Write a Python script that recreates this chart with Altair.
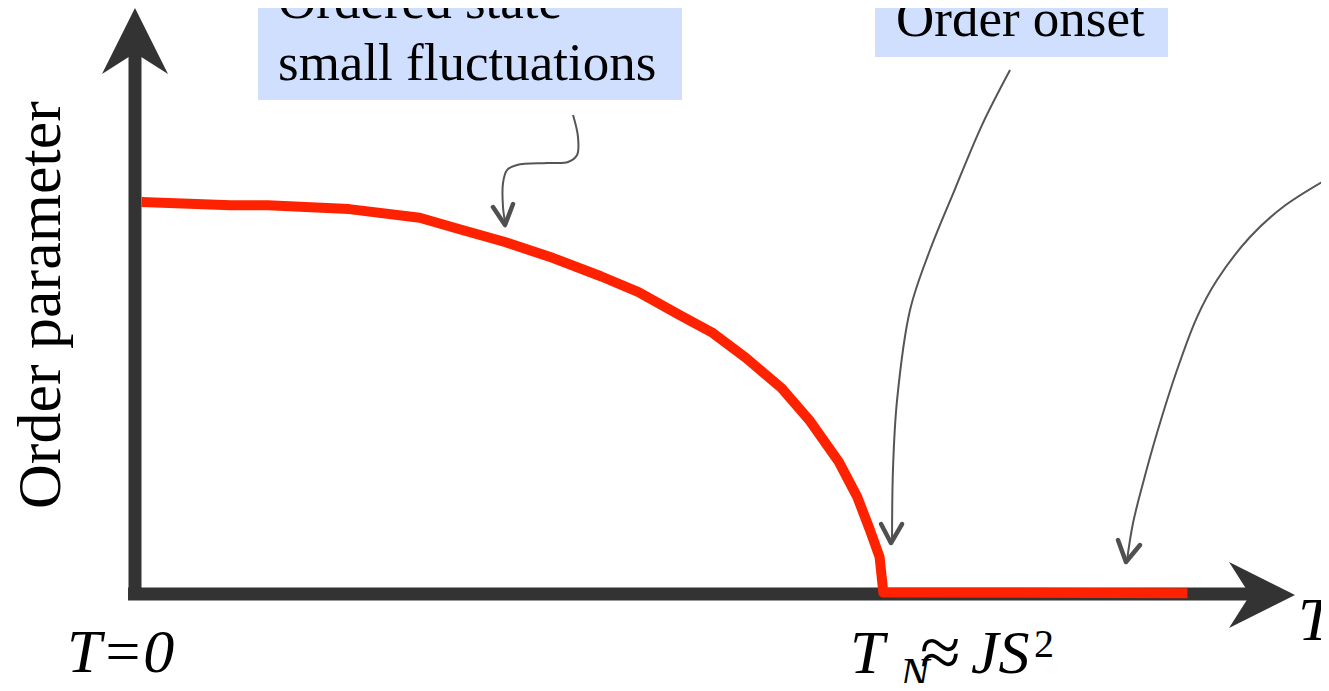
import altair as alt
import pandas as pd

# ---- data (T in units of T_N, order parameter normalised to 1 at T=0) ----
curve_T = [0.0, 0.12, 0.17, 0.28, 0.375, 0.43, 0.49, 0.555, 0.62, 0.67, 0.725,
           0.77, 0.815, 0.863, 0.90, 0.94, 0.965, 0.982, 0.995, 1.0, 1.41]
curve_M = [1.0, 0.992, 0.992, 0.982, 0.96, 0.93, 0.898, 0.857, 0.81, 0.77, 0.712,
           0.666, 0.602, 0.525, 0.444, 0.337, 0.247, 0.163, 0.094, 0.004, 0.002]

# axis shafts
axis_x = [-0.0088, -0.0182]
axis_y = [-0.0153, 0.0]
axis_x2 = [-0.0088, 1.4957]
axis_y2 = [1.38, 0.0]

# arrow heads of the axes
head_T = [-0.0088, 1.5105]
head_M = [1.4107, -0.0025]
head_shape = ["M0,-1L1,1L0,0.364L-1,1Z", "M1,0L-1,-1L-0.364,0L-1,1Z"]

# annotation boxes
box_x = [0.157, 0.9888]
box_x2 = [0.7286, 1.3838]
box_y = [1.2602, 1.3699]
box_y2 = [1.60, 1.60]

# annotation pointer curves
arrow1_T = [0.5817, 0.5884, 0.5871, 0.5749, 0.5466, 0.5062, 0.4927, 0.4873, 0.4873, 0.4900]
arrow1_M = [1.2219, 1.1658, 1.1199, 1.1020, 1.0995, 1.0944, 1.0816, 1.0485, 0.9872, 0.9490]
arrow2_T = [1.1708, 1.1330, 1.0966, 1.0629, 1.0360, 1.0185, 1.0131, 1.0117]
arrow2_M = [1.3367, 1.1964, 1.0332, 0.8776, 0.7245, 0.4949, 0.3240, 0.1378]
arrow3_T = [1.6008, 1.5388, 1.4943, 1.4498, 1.4229, 1.3959, 1.3689, 1.3501, 1.3366, 1.3285]
arrow3_M = [1.0612, 0.9872, 0.9107, 0.8010, 0.7066, 0.5714, 0.4107, 0.2832, 0.1811, 0.0867]

# chevron tips
chev1_T = [0.4738, 0.4900, 0.5008]
chev1_M = [0.9872, 0.9413, 0.9949]
chev2_T = [0.9969, 1.0103, 1.0252]
chev2_M = [0.1786, 0.1301, 0.1786]
chev3_T = [1.3163, 1.3271, 1.3460]
chev3_M = [0.1378, 0.0816, 0.1250]

# texts
reg_text = ["Ordered state", "small fluctuations", "Order onset", "\u2248", "2"]
reg_T = [0.1840, 0.1840, 1.0171, 1.0494, 1.2032]
reg_M = [1.4694, 1.3112, 1.4235, -0.2117, -0.1607]
reg_size = [53, 53, 53, 74, 40]

ital_text = ["T=0", "T", "N", "JS", "T"]
ital_T = [-0.1004, 0.9551, 1.0225, 1.1181, 1.5590]
ital_M = [-0.1990, -0.2015, -0.2398, -0.2015, -0.1173]
ital_size = [62, 62, 44, 62, 62]

ylabel_text = ["Order parameter"]
ylabel_T = [-0.1099]
ylabel_M = [0.7372]

# ---- scales ----
XS = alt.Scale(domain=[-0.18, 1.59], zero=False, nice=False)
YS = alt.Scale(domain=[-0.227, 1.495], zero=False, nice=False)
FONT = "'Times New Roman', 'Liberation Serif', 'DejaVu Serif', serif"


def X(f="T"):
    return alt.X(f"{f}:Q", scale=XS, axis=None)


def Y(f="M"):
    return alt.Y(f"{f}:Q", scale=YS, axis=None)


boxes = alt.Chart(pd.DataFrame({"x": box_x, "x2": box_x2, "y": box_y, "y2": box_y2})).mark_rect(
    color="#cfdffd", clip=True
).encode(x=alt.X("x:Q", scale=XS, axis=None), x2="x2:Q",
         y=alt.Y("y:Q", scale=YS, axis=None), y2="y2:Q")

axes = alt.Chart(pd.DataFrame({"x": axis_x, "y": axis_y, "x2": axis_x2, "y2": axis_y2})).mark_rule(
    color="#333333", strokeWidth=13, strokeCap="butt"
).encode(x=alt.X("x:Q", scale=XS, axis=None), x2="x2:Q",
         y=alt.Y("y:Q", scale=YS, axis=None), y2="y2:Q")

heads = alt.Chart(pd.DataFrame({"T": head_T, "M": head_M, "shape": head_shape})).mark_point(
    filled=True, opacity=1, color="#333333", strokeWidth=0, size=4356
).encode(x=X(), y=Y(), shape=alt.Shape("shape:N", scale=None, legend=None))

curve = alt.Chart(pd.DataFrame({"T": curve_T, "M": curve_M, "i": range(len(curve_T))})).mark_line(
    color="#ff2200", strokeWidth=10, strokeCap="butt", strokeJoin="round"
).encode(x=X(), y=Y(), order="i:Q")

rows = []
for k, (ts, ms) in enumerate([(arrow1_T, arrow1_M), (arrow2_T, arrow2_M), (arrow3_T, arrow3_M)]):
    for i, (t, m) in enumerate(zip(ts, ms)):
        rows.append({"T": t, "M": m, "a": k, "i": i})
pointers = alt.Chart(pd.DataFrame(rows)).mark_line(
    color="#555555", strokeWidth=2, interpolate="catmull-rom", clip=True
).encode(x=X(), y=Y(), detail="a:N", order="i:Q")

crows = []
for k, (ts, ms) in enumerate([(chev1_T, chev1_M), (chev2_T, chev2_M), (chev3_T, chev3_M)]):
    for i, (t, m) in enumerate(zip(ts, ms)):
        crows.append({"T": t, "M": m, "a": k, "i": i})
chevrons = alt.Chart(pd.DataFrame(crows)).mark_line(
    color="#505050", strokeWidth=4.5, strokeCap="round", strokeJoin="round"
).encode(x=X(), y=Y(), detail="a:N", order="i:Q")

reg = alt.Chart(pd.DataFrame({"T": reg_T, "M": reg_M, "txt": reg_text, "s": reg_size})).mark_text(
    font=FONT, align="left", baseline="alphabetic", color="#000000", clip=True
).encode(x=X(), y=Y(), text="txt:N", size=alt.Size("s:Q", scale=None, legend=None))

ital = alt.Chart(pd.DataFrame({"T": ital_T, "M": ital_M, "txt": ital_text, "s": ital_size})).mark_text(
    font=FONT, fontStyle="italic", align="left", baseline="alphabetic", color="#000000", clip=True
).encode(x=X(), y=Y(), text="txt:N", size=alt.Size("s:Q", scale=None, legend=None))

ylab = alt.Chart(pd.DataFrame({"T": ylabel_T, "M": ylabel_M, "txt": ylabel_text})).mark_text(
    font=FONT, fontSize=62, angle=270, align="center", baseline="alphabetic", color="#000000"
).encode(x=X(), y=Y(), text="txt:N")

chart = alt.layer(boxes, axes, heads, curve, pointers, chevrons, reg, ital, ylab).properties(
    width=1313, height=675, padding=0, autosize=alt.AutoSizeParams(type="none")
).configure_view(stroke=None)

chart.save("out.html", embed_options={"renderer": "svg", "actions": False})
